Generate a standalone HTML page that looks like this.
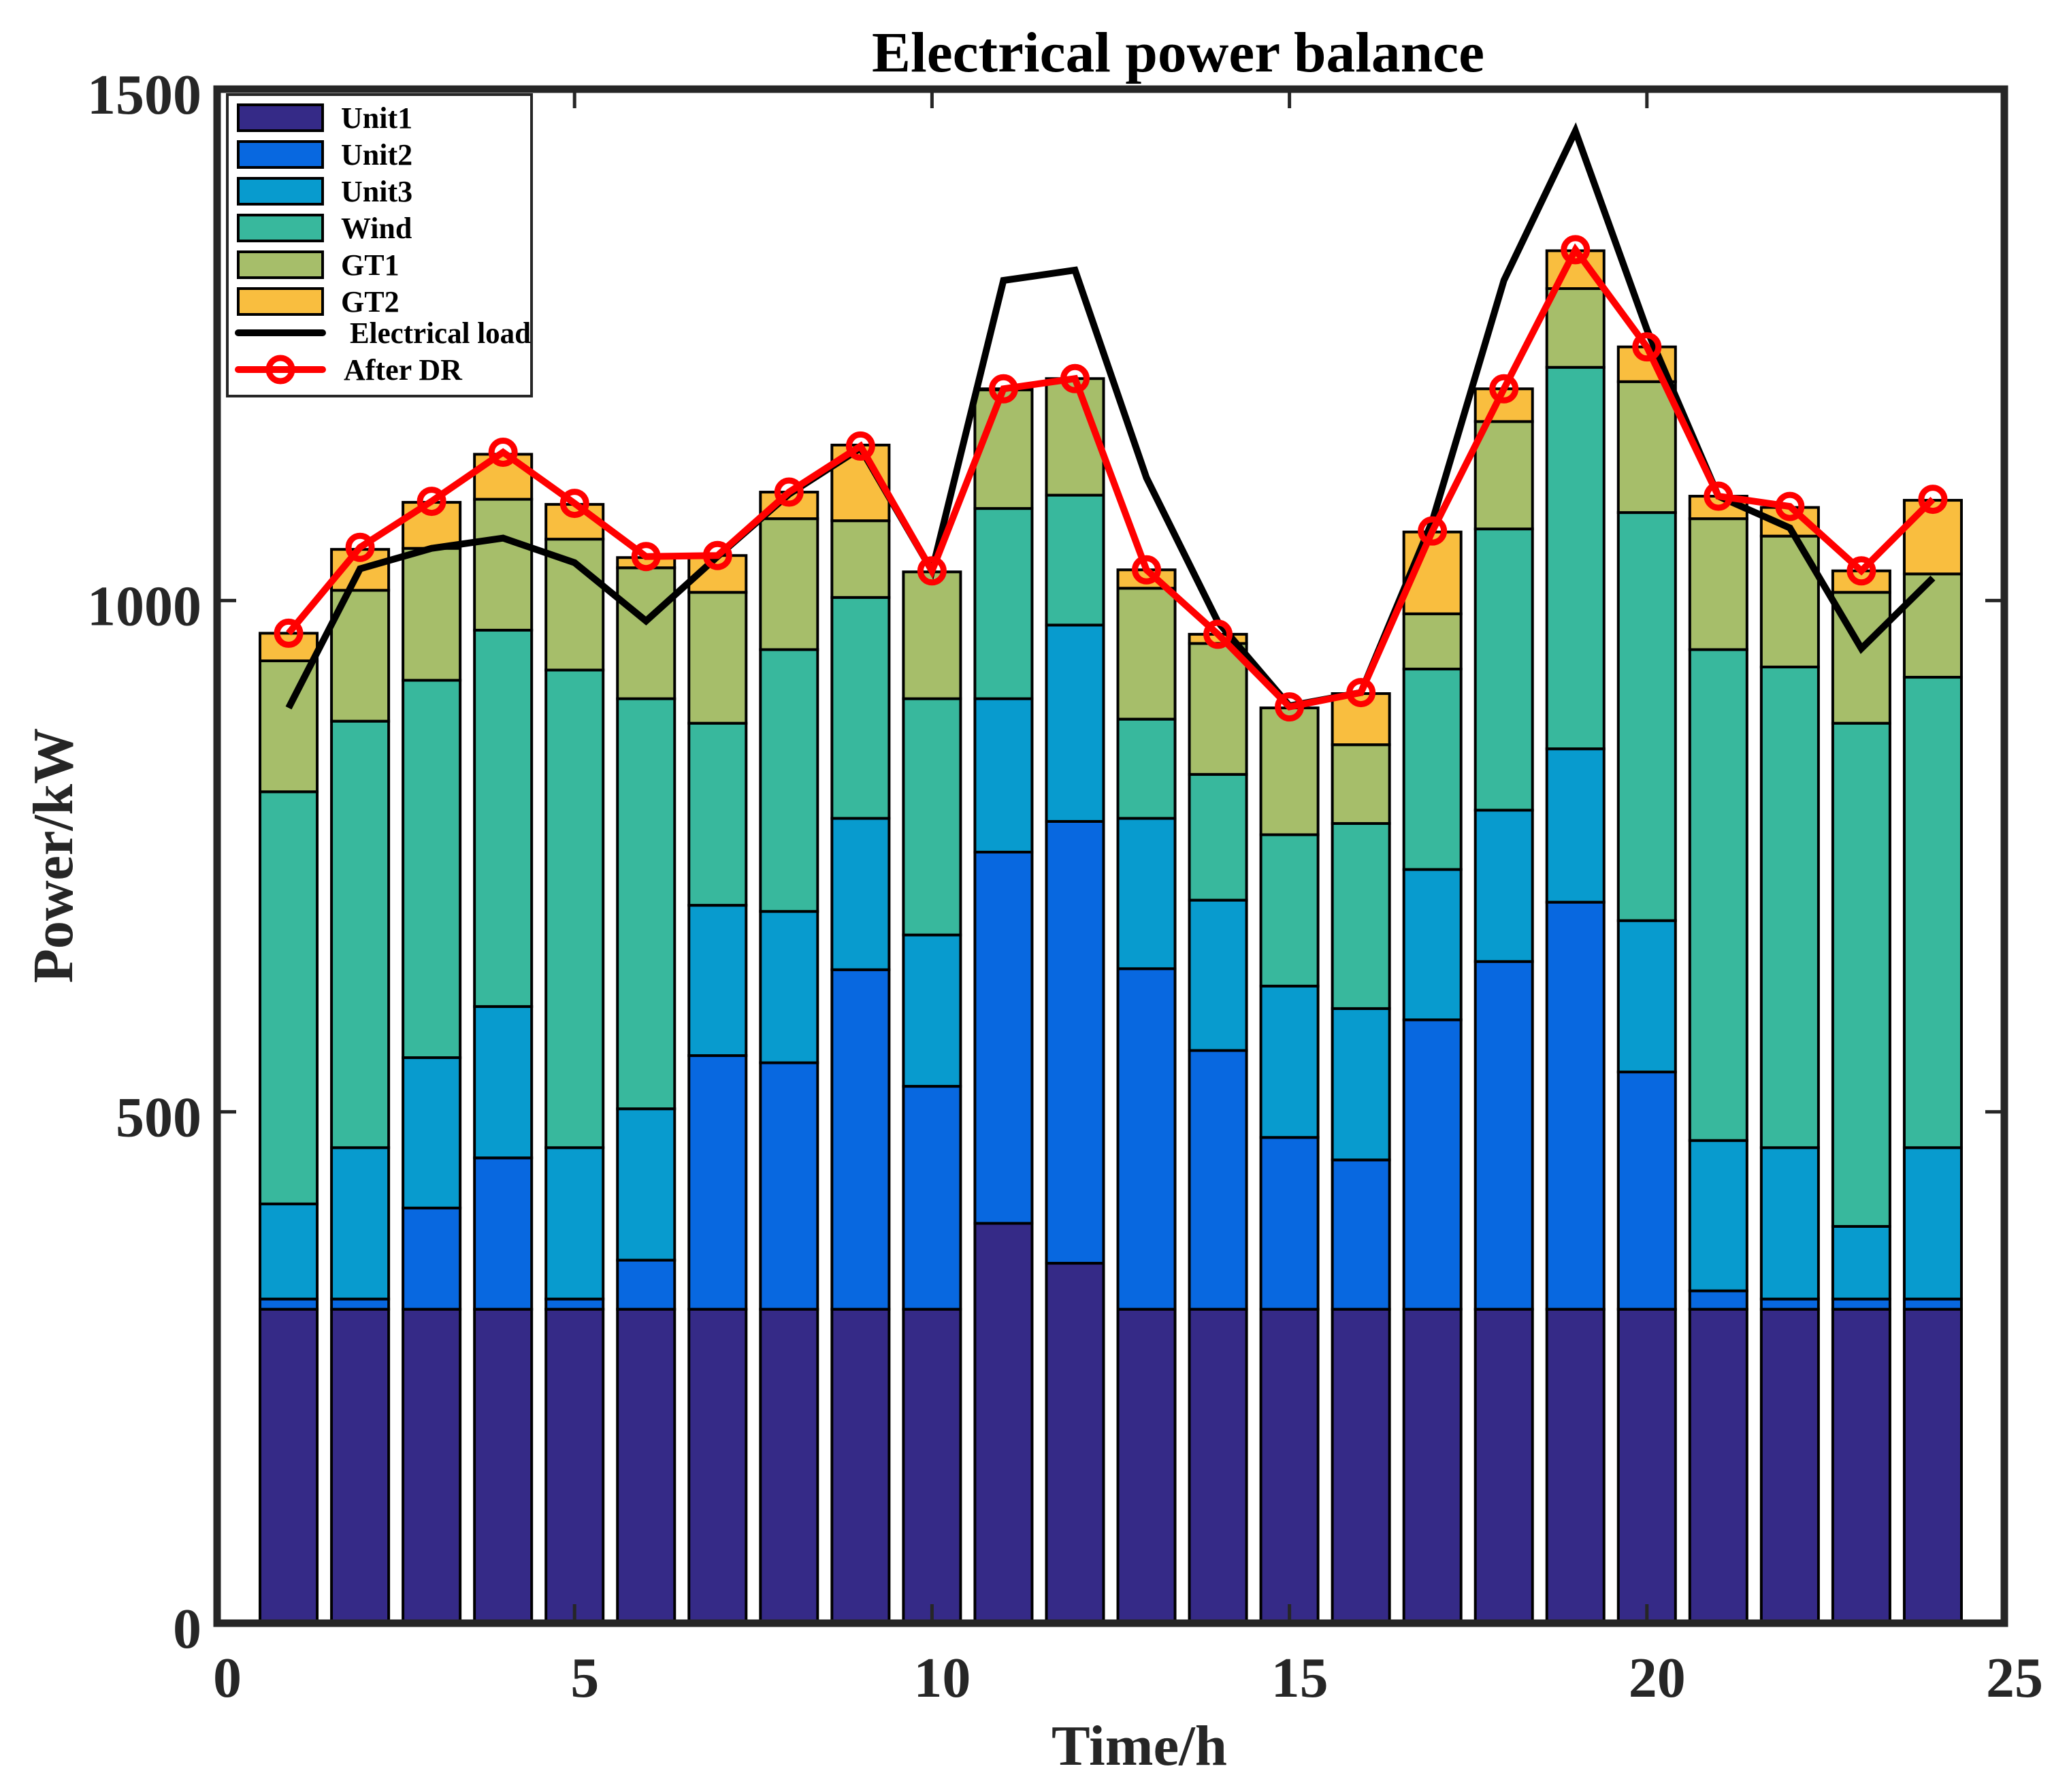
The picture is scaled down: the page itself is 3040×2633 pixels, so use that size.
<!DOCTYPE html>
<html><head><meta charset="utf-8"><style>
html,body{margin:0;padding:0;background:#fff;}
svg{display:block;font-family:"Liberation Serif",serif;font-weight:bold;}
</style></head><body>
<svg id="chart" width="3040" height="2633" viewBox="0 0 3040 2633" xmlns="http://www.w3.org/2000/svg">
<rect x="0" y="0" width="3040" height="2633" fill="#fff"/>
<text x="1731" y="105" text-anchor="middle" font-size="84" textLength="900" lengthAdjust="spacingAndGlyphs" fill="#000">Electrical power balance</text>
<text x="1674" y="2593" text-anchor="middle" font-size="84" textLength="258" lengthAdjust="spacingAndGlyphs" fill="#262626">Time/h</text>
<text transform="translate(78,1257) rotate(-90)" x="0" y="0" dy="28" text-anchor="middle" font-size="84" textLength="375" lengthAdjust="spacingAndGlyphs" fill="#262626">Power/kW</text>
<g id="bars"></g>
<g id="lines"></g>
<g id="axes"></g>
<g id="legend"></g>
</svg>
<script>
const hours = [1,2,3,4,5,6,7,8,9,10,11,12,13,14,15,16,17,18,19,20,21,22,23,24];
const unit1 = [307,307,307,307,307,307,307,307,307,307,391,352,307,307,307,307,307,307,307,307,307,307,307,307];
const unit2 = [10,10,99,148,10,48,248,241,332,218,363,432,333,253,168,146,283,340,398,232,18,10,10,10];
const unit3 = [93,148,147,148,148,148,147,148,148,148,150,192,147,147,148,148,147,148,150,148,147,148,71,148];
const wind  = [403,417,369,368,467,401,178,256,216,231,186,127,97,123,148,181,196,275,373,399,480,470,492,460];
const gt1   = [128,128,129,128,128,128,128,128,75,124,116,114,128,128,124,77,54,105,77,128,128,128,128,101];
const gt2   = [27,40,45,44,34,10,36,26,74,0,1,0,18,9,0,50,80,32,37,34,22,28,21,72];
const load  = [895,1031,1051,1061,1037,980,1043,1104,1149,1029,1313,1323,1120,979,897,910,1078,1313,1459,1265,1102,1071,953,1022];
const afterDR = [968,1052,1097,1145,1095,1043,1044,1106,1151,1029,1207,1217,1030,967,896,910,1068,1207,1343,1248,1102,1092,1029,1099];
const xTicks = [0,5,10,15,20,25];
const yTicks = [0,500,1000,1500];

const NS = "http://www.w3.org/2000/svg";
const X0 = 319, X1 = 2945, Y0 = 2385, Y1 = 131;
const xs = v => X0 + (v - 0) / 25 * (X1 - X0);
const ys = v => Y0 - v / 1500 * (Y0 - Y1);
function mk(tag, attrs, parent) {
  const e = document.createElementNS(NS, tag);
  for (const k in attrs) e.setAttribute(k, attrs[k]);
  parent.appendChild(e);
  return e;
}
const series = [
  {name: "unit1", vals: unit1, color: "#352a87", label: "Unit1"},
  {name: "unit2", vals: unit2, color: "#0868e0", label: "Unit2"},
  {name: "unit3", vals: unit3, color: "#089bce", label: "Unit3"},
  {name: "wind", vals: wind, color: "#38b89d", label: "Wind"},
  {name: "gt1", vals: gt1, color: "#a6be6a", label: "GT1"},
  {name: "gt2", vals: gt2, color: "#f9be3f", label: "GT2"}
];
const barsG = document.getElementById("bars");
const bw = (xs(1) - xs(0)) * 0.8;
hours.forEach((h, i) => {
  let cum = 0;
  series.forEach(s => {
    const v = s.vals[i];
    const yTop = ys(cum + v), yBot = ys(cum);
    const r = mk("rect", {x: xs(h) - bw / 2, y: yTop, width: bw, height: Math.max(0, yBot - yTop), fill: s.color, stroke: "#000", "stroke-width": 4}, barsG);
    
    
    cum += v;
  });
});
const linesG = document.getElementById("lines");
const lp = mk("polyline", {points: hours.map((h, i) => xs(h) + "," + ys(load[i])).join(" "), fill: "none", stroke: "#000", "stroke-width": 10, "stroke-linejoin": "miter"}, linesG);


const rp = mk("polyline", {points: hours.map((h, i) => xs(h) + "," + ys(afterDR[i])).join(" "), fill: "none", stroke: "#ff0000", "stroke-width": 10}, linesG);


hours.forEach((h, i) => {
  const c = mk("circle", {cx: xs(h), cy: ys(afterDR[i]), r: 17, fill: "none", stroke: "#ff0000", "stroke-width": 9}, linesG);
  
  
});
const axG = document.getElementById("axes");
const box = mk("rect", {x: X0, y: Y1, width: X1 - X0, height: Y0 - Y1, fill: "none", stroke: "#262626", "stroke-width": 11}, axG);


xTicks.forEach((t, i) => {
  const x = xs(t);
  if (t > 0 && t < 25) {
    const a = mk("line", {x1: x, y1: Y0, x2: x, y2: Y0 - 28, stroke: "#262626", "stroke-width": 5}, axG);
    
    
    const b = mk("line", {x1: x, y1: Y1, x2: x, y2: Y1 + 28, stroke: "#262626", "stroke-width": 5}, axG);
    
    
  }
  const tx = mk("text", {x: x + 15, y: 2493, "text-anchor": "middle", "font-size": 84, fill: "#262626"}, axG);
  tx.textContent = t;
  
  
});
yTicks.forEach(t => {
  const y = ys(t);
  if (t > 0 && t < 1500) {
    const a = mk("line", {x1: X0, y1: y, x2: X0 + 28, y2: y, stroke: "#262626", "stroke-width": 5}, axG);
    
    
    const b = mk("line", {x1: X1, y1: y, x2: X1 - 28, y2: y, stroke: "#262626", "stroke-width": 5}, axG);
    
    
  }
  const tx = mk("text", {x: 296, y: y + 36, "text-anchor": "end", "font-size": 84, fill: "#262626"}, axG);
  tx.textContent = t;
  
  
});
const lg = document.getElementById("legend");
const lbox = mk("rect", {x: 334, y: 139, width: 447, height: 443, fill: "#fff", stroke: "#262626", "stroke-width": 4}, lg);


series.forEach((s, i) => {
  const cy = 173 + i * 54;
  const r = mk("rect", {x: 350, y: cy - 19, width: 124, height: 38, fill: s.color, stroke: "#000", "stroke-width": 4}, lg);
  
  
  const t = mk("text", {x: 501, y: cy + 15, "font-size": 44, fill: "#000"}, lg);
  t.textContent = s.label;
  
  
});
const ll = mk("line", {x1: 350, y1: 489, x2: 474, y2: 489, stroke: "#000", "stroke-width": 10, "stroke-linecap": "round"}, lg);


const lt = mk("text", {x: 514, y: 504, "font-size": 44, fill: "#000", textLength: 266, lengthAdjust: "spacingAndGlyphs"}, lg);
lt.textContent = "Electrical load";


const rl = mk("line", {x1: 350, y1: 543, x2: 474, y2: 543, stroke: "#ff0000", "stroke-width": 10, "stroke-linecap": "round"}, lg);


const rc = mk("circle", {cx: 412, cy: 543, r: 17, fill: "none", stroke: "#ff0000", "stroke-width": 9}, lg);


const rt = mk("text", {x: 505, y: 558, "font-size": 44, fill: "#000"}, lg);
rt.textContent = "After DR";


</script>
</body></html>
